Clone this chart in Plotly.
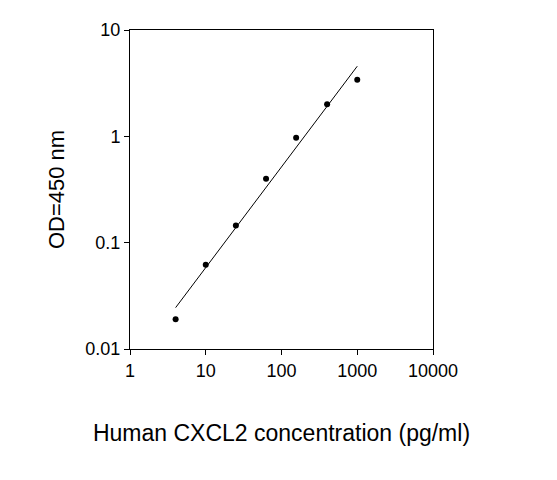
import numpy as np
import plotly.graph_objs as go

conc = [4, 10, 25, 62.5, 156, 400, 1000]
od = [0.019, 0.062, 0.145, 0.40, 0.97, 2.0, 3.4]
x_ticks = [1, 10, 100, 1000, 10000]
y_ticks = [0.01, 0.1, 1, 10]

# log-log linear fit for the standard curve
k, b = np.polyfit(np.log10(conc), np.log10(od), 1)
fit_x = np.array([conc[0], conc[-1]])
fit_y = 10 ** (k * np.log10(fit_x) + b)

fig = go.Figure()
fig.add_trace(go.Scatter(x=fit_x, y=fit_y, mode='lines',
                         line=dict(color='black', width=1)))
fig.add_trace(go.Scatter(x=conc, y=od, mode='markers',
                         marker=dict(color='black', size=6)))

axis = dict(showgrid=False, zeroline=False, showline=True, mirror=True,
            linecolor='black', linewidth=1, ticks='outside', ticklen=5,
            tickcolor='black', tickfont=dict(size=18, color='black'))

fig.update_layout(
    width=557, height=480,
    plot_bgcolor='white', paper_bgcolor='white',
    showlegend=False,
    font=dict(family='Liberation Sans, Arial', color='black'),
    margin=dict(l=122, r=132, t=14, b=139),
    xaxis=dict(type='log', range=[0, 4], tickvals=x_ticks,
               ticktext=[str(v) for v in x_ticks],
               title=dict(text='Human CXCL2 concentration (pg/ml)',
                          font=dict(size=23), standoff=45), **axis),
    yaxis=dict(type='log', range=[-2, 1], tickvals=y_ticks,
               ticktext=[str(v) for v in y_ticks],
               title=dict(text='OD=450 nm', font=dict(size=22), standoff=14), **axis),
)

fig.write_html("out.html")
